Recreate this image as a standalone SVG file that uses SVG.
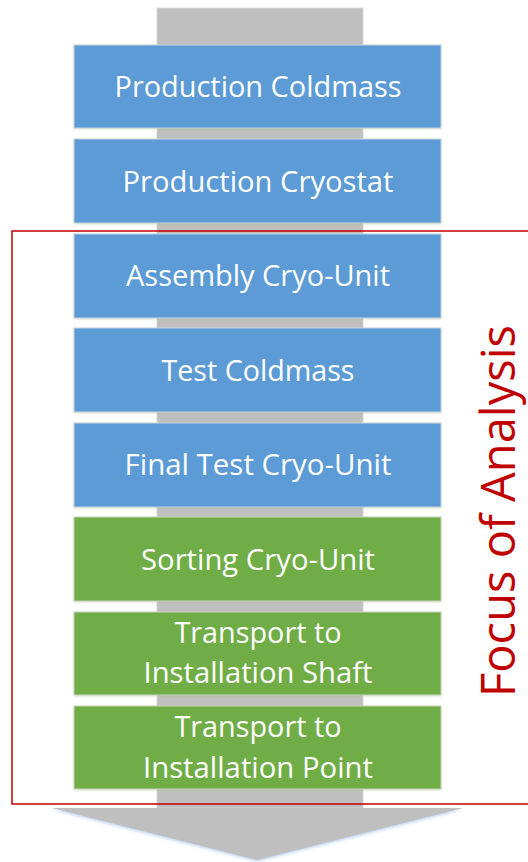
<svg xmlns="http://www.w3.org/2000/svg" width="528" height="862" viewBox="0 0 528 862">
<defs>
<filter id="sh" x="-5%" y="-10%" width="110%" height="120%">
<feDropShadow dx="0" dy="1" stdDeviation="1.2" flood-color="#9fb87f" flood-opacity="0.35"/>
</filter>
<filter id="ash" x="-5%" y="-5%" width="110%" height="110%">
<feDropShadow dx="0" dy="1.5" stdDeviation="1.5" flood-color="#8fb4e3" flood-opacity="0.6"/>
</filter>
</defs>
<style>
.blue{fill:#5B9BD5;stroke:#C9D3DC;stroke-width:1}
.green{fill:#70AD47;stroke:#C9D3C0;stroke-width:1}
.t{font-family:"Open Sans","Noto Sans",sans-serif;font-size:29px;fill:#FFFFFF;text-anchor:middle}
.focus{font-family:"Open Sans","Noto Sans",sans-serif;font-size:48px;fill:#C00000;text-anchor:middle}
</style>
<g id="connectors">
<rect x="157" y="8" width="206" height="800" fill="#BFBFBF" stroke="#D6D6D6" stroke-width="0.8"/>
<polygon points="52,808 463,808 257,860" fill="#BFBFBF" filter="url(#ash)"/>
</g>
<g id="n1"><rect class="blue" x="74" y="45" width="367" height="83" filter="url(#sh)"/><text class="t" x="258" y="97" textLength="287" lengthAdjust="spacingAndGlyphs">Production Coldmass</text></g>
<g id="n2"><rect class="blue" x="74" y="139" width="367" height="84" filter="url(#sh)"/><text class="t" x="258" y="192" textLength="271" lengthAdjust="spacingAndGlyphs">Production Cryostat</text></g>
<g id="n3"><rect class="blue" x="74" y="234" width="367" height="84" filter="url(#sh)"/><text class="t" x="258" y="286" textLength="264" lengthAdjust="spacingAndGlyphs">Assembly Cryo-Unit</text></g>
<g id="n4"><rect class="blue" x="74" y="328" width="367" height="84" filter="url(#sh)"/><text class="t" x="258" y="381" textLength="193" lengthAdjust="spacingAndGlyphs">Test Coldmass</text></g>
<g id="n5"><rect class="blue" x="74" y="423" width="367" height="84" filter="url(#sh)"/><text class="t" x="258" y="475" textLength="267" lengthAdjust="spacingAndGlyphs">Final Test Cryo-Unit</text></g>
<g id="n6"><rect class="green" x="74" y="517" width="367" height="84" filter="url(#sh)"/><text class="t" x="258" y="570" textLength="234" lengthAdjust="spacingAndGlyphs">Sorting Cryo-Unit</text></g>
<g id="n7"><rect class="green" x="74" y="612" width="367" height="83" filter="url(#sh)"/><text class="t" x="258" y="643" textLength="167" lengthAdjust="spacingAndGlyphs">Transport to</text><text class="t" x="258" y="683" textLength="229" lengthAdjust="spacingAndGlyphs">Installation Shaft</text></g>
<g id="n8"><rect class="green" x="74" y="706" width="367" height="83" filter="url(#sh)"/><text class="t" x="258" y="737" textLength="167" lengthAdjust="spacingAndGlyphs">Transport to</text><text class="t" x="258" y="778" textLength="230" lengthAdjust="spacingAndGlyphs">Installation Point</text></g>
<g id="focus">
<rect x="12" y="231" width="530" height="573" fill="none" stroke="#C00000" stroke-width="1.5"/>
<text class="focus" transform="translate(515,511) rotate(-90)" x="0" y="0" textLength="372" lengthAdjust="spacingAndGlyphs">Focus of Analysis</text>
</g>
</svg>
